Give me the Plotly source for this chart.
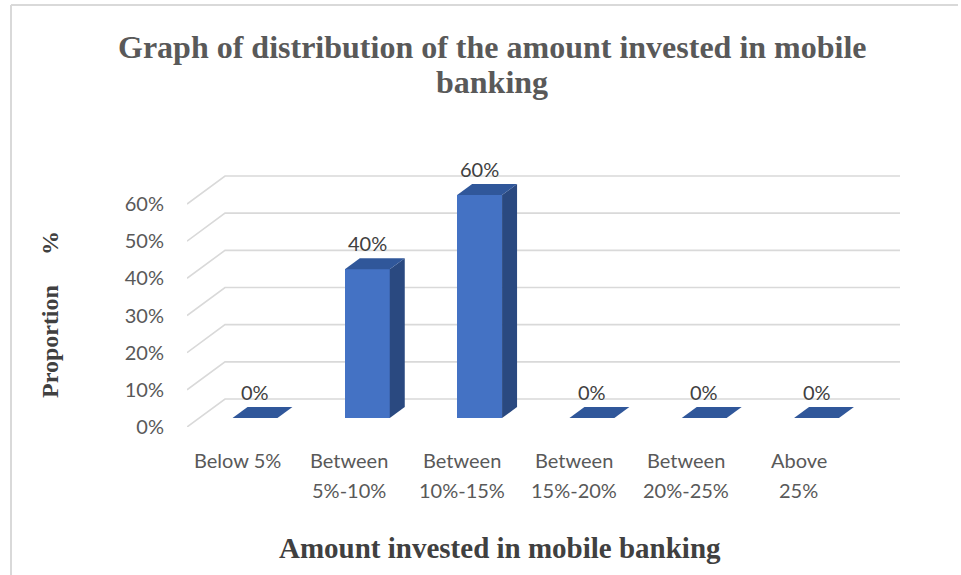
import plotly.graph_objects as go

# Survey results: share of respondents per investment bracket
categories = ["Below 5%", "Between<br>5%-10%", "Between<br>10%-15%",
              "Between<br>15%-20%", "Between<br>20%-25%", "Above<br>25%"]
proportions = [0.0, 0.4, 0.6, 0.0, 0.0, 0.0]
y_ticks = [0.0, 0.1, 0.2, 0.3, 0.4, 0.5, 0.6]
y_tick_labels = ["0%", "10%", "20%", "30%", "40%", "50%", "60%"]

title_lines = ["Graph of distribution of the amount invested in mobile", "banking"]
x_title = "Amount invested in mobile banking"
y_title = "Proportion\u00a0\u00a0\u00a0\u00a0\u00a0%"

# ---- page geometry (pixels) ----
W, H = 961, 575
PL, PR, PT, PB = 187, 900, 165, 427          # plot area edges
UX = 112.3                                   # px per category step
KY = 223 / 0.6                               # px per unit of proportion
X0_PX = 255                                  # first category centre
Y0_PX = 418                                  # baseline of bar fronts

x_range = [(PL - X0_PX) / UX, (PR - X0_PX) / UX]
y_range = [-(PB - Y0_PX) / KY, (Y0_PX - PT) / KY]

# 3-D depth offsets
bar_dx, bar_dy = 15 / UX, 11 / KY             # bar depth
front_y, back_y = 9 / KY, 19 / KY              # wall offsets from bar plane
wall_front_x = x_range[0]
wall_back_x = (225 - X0_PX) / UX
half_w = 0.2

FRONT = "#4472C4"
TOP = "#30579A"
SIDE = "#2A4980"
GRID = "#D9D9D9"


def px_x(p):
    return (p - PL) / (PR - PL)


def px_y(p):
    return (PB - p) / (PB - PT)


xs = list(range(len(categories)))

fig = go.Figure()
fig.add_trace(go.Bar(
    x=xs, y=proportions, width=2 * half_w,
    marker=dict(color=FRONT, line=dict(width=0)),
    hoverinfo="skip", showlegend=False,
))

shapes = []
# slanted wall + back gridlines
for v in y_ticks:
    path = (f"M {wall_front_x},{v - front_y} L {wall_back_x},{v + back_y} "
            f"L {x_range[1]},{v + back_y}")
    shapes.append(dict(type="path", path=path, xref="x", yref="y",
                       line=dict(color=GRID, width=1.6), layer="below"))

# top and side faces of each bar
for x, v in zip(xs, proportions):
    l, r = x - half_w, x + half_w
    if v > 0:
        side = (f"M {r},0 L {r + bar_dx},{bar_dy} L {r + bar_dx},{v + bar_dy} "
                f"L {r},{v} Z")
        shapes.append(dict(type="path", path=side, xref="x", yref="y",
                           fillcolor=SIDE, line=dict(width=0)))
    top = (f"M {l},{v} L {r},{v} L {r + bar_dx},{v + bar_dy} "
           f"L {l + bar_dx},{v + bar_dy} Z")
    shapes.append(dict(type="path", path=top, xref="x", yref="y",
                       fillcolor=TOP, line=dict(width=0)))

# chart frame
shapes.append(dict(type="line", xref="paper", yref="paper",
                   x0=px_x(11), x1=px_x(958), y0=px_y(5), y1=px_y(5),
                   line=dict(color="#D9D9D9", width=2)))
shapes.append(dict(type="line", xref="paper", yref="paper",
                   x0=px_x(11), x1=px_x(11), y0=px_y(5), y1=px_y(575),
                   line=dict(color="#D9D9D9", width=2)))

annotations = []
# value labels
for x, v in zip(xs, proportions):
    annotations.append(dict(
        x=x, y=v + bar_dy, xref="x", yref="y", text=f"{v * 100:.0f}%",
        showarrow=False, yanchor="bottom", yshift=1,
        font=dict(family="Lato", size=20, color="#404040")))

# category labels (two rows)
for x, cat in zip(xs, categories):
    for row, part in enumerate(cat.split("<br>")):
        annotations.append(dict(
            x=x - 18 / UX, y=0, xref="x", yref="paper", text=part,
            showarrow=False, yanchor="middle", yshift=-(460 - PB) - 30 * row,
            font=dict(family="Lato", size=20, color="#595959")))

serif = "Liberation Serif, Times New Roman, serif"
for i, line in enumerate(title_lines):
    annotations.append(dict(
        x=px_x(492), y=px_y(47 + 35 * i), xref="paper", yref="paper",
        text=f"<b>{line}</b>", showarrow=False, xanchor="center", yanchor="middle",
        font=dict(family=serif, size=32, color="#595959")))

annotations.append(dict(
    x=px_x(500), y=px_y(548), xref="paper", yref="paper", text=f"<b>{x_title}</b>",
    showarrow=False, xanchor="center", yanchor="middle",
    font=dict(family=serif, size=29, color="#404040")))
annotations.append(dict(
    x=px_x(50), y=px_y(315), xref="paper", yref="paper", text=f"<b>{y_title}</b>",
    showarrow=False, xanchor="center", yanchor="middle", textangle=-90,
    font=dict(family=serif, size=24, color="#404040")))

fig.update_layout(
    width=W, height=H,
    margin=dict(l=PL, r=W - PR, t=PT, b=H - PB),
    paper_bgcolor="white", plot_bgcolor="white",
    shapes=shapes, annotations=annotations,
    xaxis=dict(range=x_range, showgrid=False, zeroline=False, showline=False,
               showticklabels=False, fixedrange=True),
    yaxis=dict(range=y_range, showgrid=False, zeroline=False, showline=False,
               tickmode="array", tickvals=[v - front_y for v in y_ticks],
               ticktext=y_tick_labels, ticks="", ticklabelstandoff=22,
               tickfont=dict(family="Lato", size=20, color="#595959"),
               fixedrange=True),
    bargap=0,
)

fig.write_html("out.html")
